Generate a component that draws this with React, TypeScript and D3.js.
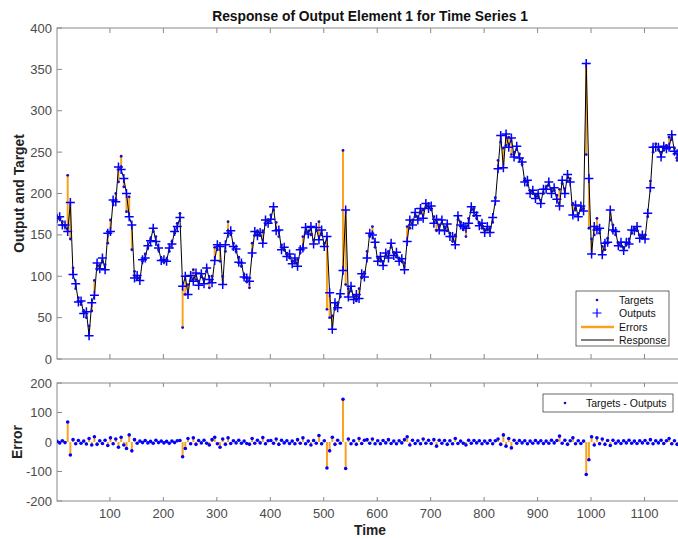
import React, { useEffect } from 'react';
import * as d3 from 'd3';

// one value every STEP time steps, starting at time 1
const START = 1;
const STEP = 5;

const targets = [
  172, 169, 166, 160, 222, 145, 110, 85, 74, 66, 58, 50, 40, 58, 95, 108, 113, 117, 114, 140,
  168, 186, 200, 214, 245, 208, 178, 196, 132, 106, 97, 98, 118, 127, 134, 145, 154, 148, 132, 122,
  117, 120, 130, 142, 152, 164, 176, 38, 78, 90, 95, 108, 96, 94, 100, 97, 106, 86, 100, 135,
  132, 118, 100, 130, 166, 150, 140, 130, 123, 112, 102, 93, 86, 140, 150, 155, 150, 155, 162, 168,
  174, 180, 165, 148, 138, 132, 128, 122, 118, 116, 120, 128, 148, 153, 154, 150, 144, 155, 166, 150,
  140, 60, 50, 52, 60, 68, 75, 252, 90, 85, 82, 76, 70, 85, 98, 105, 130, 148, 160, 135,
  122, 118, 118, 125, 130, 135, 128, 123, 122, 118, 116, 160, 158, 168, 172, 172, 176, 180, 184, 188,
  180, 172, 155, 162, 164, 160, 155, 152, 142, 150, 168, 165, 156, 148, 170, 180, 182, 170, 165, 158,
  156, 156, 158, 165, 195, 240, 262, 255, 258, 268, 247, 250, 253, 248, 235, 218, 210, 203, 200, 199,
  197, 192, 200, 208, 210, 206, 204, 198, 205, 212, 206, 215, 218, 188, 180, 176, 180, 182, 247, 158,
  145, 150, 170, 152, 136, 132, 146, 168, 162, 150, 140, 136, 135, 138, 145, 152, 158, 155, 150, 147,
  150, 172, 215, 250, 260, 253, 250, 252, 258, 268, 265, 255, 240, 248, 252,
];

// Targets - Outputs
const errors = [
  2, -3, 4, -2, 68, -44, 8, -6, 5, -4, 3, -7, 12, -10, 18, -8, 4, -5, 6, -12,
  14, -6, 10, -18, 16, -10, -22, 24, -30, 8, -4, 3, -2, 5, -3, 2, -4, 6, -2, 3,
  -3, 2, -4, 3, -2, 4, 5, -50, -22, 12, -6, 14, -8, 5, -3, 6, -4, -10, 8, 16,
  -6, -18, 10, -8, 14, -5, 4, -3, 6, -4, 3, -5, -8, 12, -4, 6, -3, 15, -6, 4,
  5, -4, 10, -8, 6, -3, 4, -5, 3, -6, 8, -4, 14, -6, 3, -10, 5, -4, 22, -6,
  4, -88, -30, 16, -8, 6, -4, 145, -90, 10, -6, 4, -8, 12, -5, 6, 8, -4, 10, -6,
  4, -6, 5, -3, 8, -5, 3, -6, 4, -3, 8, 18, -10, 6, -5, 4, -6, 10, -4, 6,
  -5, 8, -14, 6, -4, 5, -8, 4, -6, 12, -5, 3, -4, -10, 6, -4, 5, -3, 4, -6,
  3, -4, 5, -6, 4, 10, -8, 24, -14, 12, -20, 6, -4, 5, -3, 4, -6, 3, -4, 5,
  -3, 4, -5, 3, -4, 6, -3, 5, 20, -4, 6, -8, 4, 14, -6, 4, -5, 3, -110, -60,
  18, -10, 14, -6, 10, -8, 5, -12, 6, -4, 3, -5, 4, -3, 6, -4, 3, -5, 4, -3,
  5, -4, 8, -6, 4, -3, 6, -5, 4, 12, -6, 4, -8, 5, -3,
];

const yTicksTop = [0, 50, 100, 150, 200, 250, 300, 350, 400];
const yTicksErr = [-200, -100, 0, 100, 200];
const xTicks = [100, 200, 300, 400, 500, 600, 700, 800, 900, 1000, 1100];

const FONT = '"Liberation Sans", Arial, Helvetica, sans-serif';
const BLUE = '#0000ff';
const DOT = '#1010c0';
const ORANGE = '#f9a21e';
const AXIS = '#8a8a8a';
const LABEL = '#4a4a4a';

export default function App() {
  useEffect(() => {
    document.body.style.margin = '0';
  }, []);

  const times = targets.map((_, i) => START + i * STEP);
  const outputs = targets.map((t, i) => t - errors[i]);

  const x = d3.scaleLinear().domain([1, 1172]).range([57, 683]);
  const yTop = d3.scaleLinear().domain([0, 400]).range([359, 28]);
  const yErr = d3.scaleLinear().domain([-200, 200]).range([501, 383]);

  const response = d3.line<number>().x((_, i) => x(times[i])).y((d) => yTop(d))(outputs) || '';
  const plus = 'M-4.5,0H4.5M0,-4.5V4.5';

  const [t0, t1] = yTop.range();
  const [e0, e1] = yErr.range();
  const [xl, xr] = x.range();

  return (
    <div style={{ position: 'absolute', left: 0, top: 0 }}>
      <svg width={678} height={540} style={{ display: 'block', background: '#fff', overflow: 'hidden' }} fontFamily={FONT}>
        <defs>
          <clipPath id="top-clip"><rect x={xl} y={t1} width={xr - xl} height={t0 - t1} /></clipPath>
          <clipPath id="err-clip"><rect x={xl} y={e1} width={xr - xl} height={e0 - e1} /></clipPath>
        </defs>

        <text x={370} y={21} textAnchor="middle" fontSize={13.8} fontWeight="bold" fill="#111">
          Response of Output Element 1 for Time Series 1
        </text>

        {/* top axes frame */}
        <rect x={xl} y={t1} width={xr - xl} height={t0 - t1} fill="none" stroke={AXIS} strokeWidth={1} />
        {xTicks.map((v) => (
          <g key={'tt' + v} stroke={AXIS}>
            <line x1={x(v)} x2={x(v)} y1={t0} y2={t0 - 5} />
            <line x1={x(v)} x2={x(v)} y1={t1} y2={t1 + 5} />
          </g>
        ))}
        {yTicksTop.map((v) => (
          <g key={'yt' + v}>
            <line x1={xl} x2={xl + 5} y1={yTop(v)} y2={yTop(v)} stroke={AXIS} />
            <text x={xl - 5} y={yTop(v) + 4.5} textAnchor="end" fontSize={13} fill={LABEL}>{v}</text>
          </g>
        ))}
        <text transform={`translate(24,${(t0 + t1) / 2}) rotate(-90)`} textAnchor="middle" fontSize={13.8} fontWeight="bold" fill="#222">
          Output and Target
        </text>

        <g clipPath="url(#top-clip)">
          {targets.map((t, i) => (
            <line key={'eo' + i} x1={x(times[i])} x2={x(times[i])} y1={yTop(t)} y2={yTop(outputs[i])} stroke={ORANGE} strokeWidth={2} />
          ))}
          <path d={response} fill="none" stroke="#000" strokeWidth={1} />
          {outputs.map((o, i) => (
            <path key={'p' + i} d={plus} transform={`translate(${x(times[i])},${yTop(o)})`} stroke={BLUE} strokeWidth={1.5} fill="none" />
          ))}
          {targets.map((t, i) => (
            <circle key={'d' + i} cx={x(times[i])} cy={yTop(t)} r={1.4} fill={DOT} />
          ))}
        </g>

        {/* top legend */}
        <g fontSize={10.5} fill="#111">
          <rect x={576} y={291} width={93} height={55} fill="#fff" stroke="#444" strokeWidth={0.8} />
          <circle cx={597} cy={300} r={1.3} fill={DOT} />
          <text x={619} y={304}>Targets</text>
          <path d={plus} transform="translate(597,313)" stroke={BLUE} strokeWidth={1.2} />
          <text x={619} y={317}>Outputs</text>
          <line x1={581} x2={614} y1={327} y2={327} stroke={ORANGE} strokeWidth={2.5} />
          <text x={619} y={331}>Errors</text>
          <line x1={581} x2={614} y1={340} y2={340} stroke="#000" strokeWidth={1} />
          <text x={619} y={344}>Response</text>
        </g>

        {/* error axes */}
        <rect x={xl} y={e1} width={xr - xl} height={e0 - e1} fill="none" stroke={AXIS} strokeWidth={1} />
        {xTicks.map((v) => (
          <g key={'te' + v}>
            <line x1={x(v)} x2={x(v)} y1={e0} y2={e0 - 4} stroke={AXIS} />
            <line x1={x(v)} x2={x(v)} y1={e1} y2={e1 + 4} stroke={AXIS} />
            <text x={x(v)} y={e0 + 17} textAnchor="middle" fontSize={13} fill={LABEL}>{v}</text>
          </g>
        ))}
        {yTicksErr.map((v) => (
          <g key={'ye' + v}>
            <line x1={xl} x2={xl + 5} y1={yErr(v)} y2={yErr(v)} stroke={AXIS} />
            <text x={xl - 5} y={yErr(v) + 4.5} textAnchor="end" fontSize={13} fill={LABEL}>{v}</text>
          </g>
        ))}
        <text transform={`translate(22,${yErr(0)}) rotate(-90)`} textAnchor="middle" fontSize={13.8} fontWeight="bold" fill="#222">
          Error
        </text>
        <text x={370} y={535} textAnchor="middle" fontSize={13.8} fontWeight="bold" fill="#222">Time</text>

        <g clipPath="url(#err-clip)">
          {errors.map((e, i) => (
            <line key={'es' + i} x1={x(times[i])} x2={x(times[i])} y1={yErr(0)} y2={yErr(e)} stroke={ORANGE} strokeWidth={2} />
          ))}
          {errors.map((e, i) => (
            <circle key={'ed' + i} cx={x(times[i])} cy={yErr(e)} r={1.8} fill={BLUE} />
          ))}
        </g>

        {/* error legend */}
        <g fontSize={10.5} fill="#111">
          <rect x={543} y={394} width={130} height={18} fill="#fff" stroke="#444" strokeWidth={0.8} />
          <circle cx={565} cy={403} r={1.3} fill={DOT} />
          <text x={586} y={407}>Targets - Outputs</text>
        </g>
      </svg>
    </div>
  );
}
